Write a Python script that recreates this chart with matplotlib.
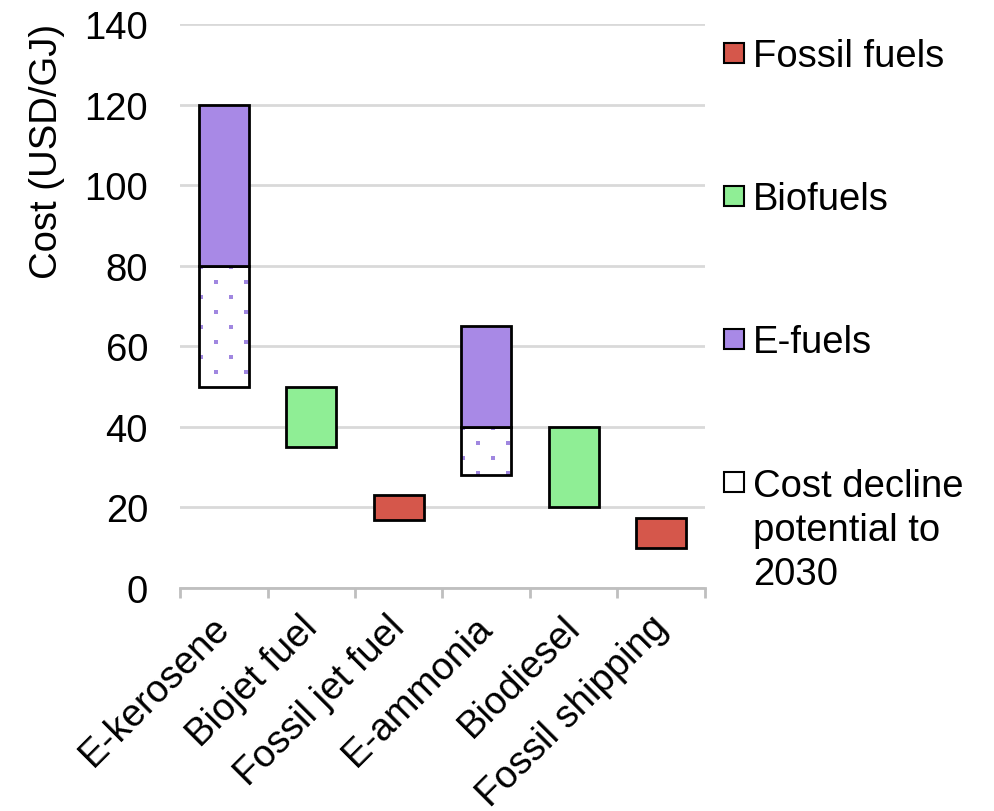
import numpy as np
import matplotlib
matplotlib.use("Agg")
import matplotlib.pyplot as plt
from matplotlib.patches import Rectangle
from matplotlib.transforms import ScaledTranslation

plt.rcParams['font.family'] = ['Liberation Sans', 'DejaVu Sans']

# Fuel cost ranges (USD/GJ)
categories = ["E-kerosene", "Biojet fuel", "Fossil jet fuel",
              "E-ammonia", "Biodiesel", "Fossil shipping"]
fuel_group = ["E-fuels", "Biofuels", "Fossil fuels",
              "E-fuels", "Biofuels", "Fossil fuels"]
cost_low = [50, 35, 17, 28, 20, 10]
cost_high = [120, 50, 23, 65, 40, 17.5]
# upper edge of the 2030 cost-decline band (e-fuels only)
decline_top = [80, np.nan, np.nan, 40, np.nan, np.nan]

legend_labels = ["Fossil fuels", "Biofuels", "E-fuels",
                 "Cost decline\npotential to\n2030"]
yticks = [0, 20, 40, 60, 80, 100, 120, 140]

colors = {"Fossil fuels": "#D5574B", "Biofuels": "#8FEE95", "E-fuels": "#A889E6",
          "decline": "white"}
dot_color = "#A087E0"
FS = 27.5

W, H = 994, 812
fig = plt.figure(figsize=(W / 100, H / 100), dpi=100)
ax = fig.add_axes([180 / W, 1 - 589 / H, 525 / W, 564 / H])

x = np.arange(len(categories))
width = 0.57
edge_lw = 2.0

ax.set_xlim(-0.5, len(categories) - 0.5)
ax.set_ylim(0, 140)

# pixel -> data scale factors for the dot texture
px_x = len(categories) / 525.0
px_y = 140.0 / 564.0

for i, cat in enumerate(categories):
    grp = fuel_group[i]
    if not np.isnan(decline_top[i]):
        ax.bar(x[i], decline_top[i] - cost_low[i], bottom=cost_low[i], width=width,
               facecolor="white", edgecolor="none", linewidth=0, zorder=3)
        band = ax.bar(x[i], decline_top[i] - cost_low[i], bottom=cost_low[i], width=width,
                      facecolor="none", edgecolor="black", linewidth=edge_lw, zorder=4)[0]
        # sparse staggered dot texture inside the decline band
        left = x[i] - width / 2
        right = x[i] + width / 2
        dx, dy = 15 * px_x, 15 * px_y
        pts_x, pts_y = [], []
        row = 0
        yy = decline_top[i] - 1 * px_y
        while yy > cost_low[i]:
            xx = left + 2 * px_x + (row % 2) * dx
            while xx < right:
                pts_x.append(xx)
                pts_y.append(yy)
                xx += 2 * dx
            yy -= dy
            row += 1
        dots = ax.scatter(pts_x, pts_y, s=9, marker="s", color=dot_color,
                          linewidths=0, zorder=3.5)
        dots.set_clip_path(band)
        ax.bar(x[i], cost_high[i] - decline_top[i], bottom=decline_top[i], width=width,
               facecolor=colors[grp], edgecolor="black", linewidth=edge_lw, zorder=4)
    else:
        ax.bar(x[i], cost_high[i] - cost_low[i], bottom=cost_low[i], width=width,
               facecolor=colors[grp], edgecolor="black", linewidth=edge_lw, zorder=4)

ax.set_yticks(yticks)
ax.yaxis.grid(True, color="#D9D9D9", linewidth=2.0, zorder=0)
ax.set_axisbelow(True)

for s in ["top", "right", "left"]:
    ax.spines[s].set_visible(False)
ax.spines["bottom"].set_color("#BFBFBF")
ax.spines["bottom"].set_linewidth(2.0)
ax.spines["bottom"].set_zorder(5)

ax.tick_params(axis="y", length=0, pad=23, labelsize=FS)
ax.set_xticks(x)
ax.set_xticklabels(categories, rotation=45, ha="right", va="top",
                   rotation_mode="anchor", fontsize=FS)
ax.tick_params(axis="x", which="major", length=0, pad=10)
shift = ScaledTranslation(-0.12, -0.07, fig.dpi_scale_trans)
for lbl in ax.get_xticklabels():
    lbl.set_transform(lbl.get_transform() + shift)
ax.set_xticks(np.arange(-0.5, len(categories)), minor=True)
ax.tick_params(axis="x", which="minor", length=7, width=2.0, color="#BFBFBF",
               direction="out")

ax.set_ylabel("Cost (USD/GJ)", fontsize=FS)
ax.yaxis.set_label_coords(-0.219, 0.775)

# legend: swatches with labels, spaced down the right side
legend_fill = [colors["Fossil fuels"], colors["Biofuels"], colors["E-fuels"], colors["decline"]]
legend_y = [54, 197, 340, 483]
line_step = 44.5
for fill, lab, yc in zip(legend_fill, legend_labels, legend_y):
    fig.add_artist(Rectangle((724 / W, 1 - (yc + 10) / H), 20 / W, 20 / H,
                             transform=fig.transFigure, facecolor=fill,
                             edgecolor="black", linewidth=1.5))
    n_extra = lab.count("\n")
    fig.text(753 / W, 1 - (yc + 13 + n_extra * line_step) / H, lab, fontsize=FS,
             va="baseline", ha="left", linespacing=1.29)

fig.savefig("out.png", dpi=100)
